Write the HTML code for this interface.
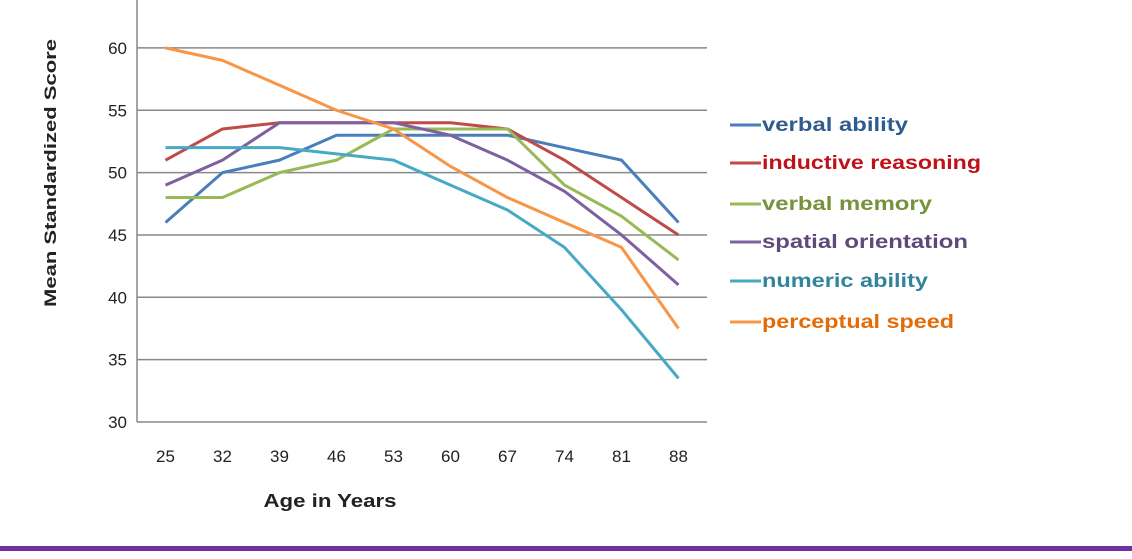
<!DOCTYPE html>
<html><head><meta charset="utf-8"><style>
body{margin:0;background:#fff;}
svg{display:block;font-family:"Liberation Sans",sans-serif;}
</style></head><body>
<svg id="chart" width="1132" height="559">
<g id="grid"></g>
<g id="yt"></g>
<g id="xt"></g>
<g id="lines"></g>
<g id="legend"></g>
<text transform="translate(56,173) rotate(-90)" text-anchor="middle" font-size="17" font-weight="bold" fill="#222" textLength="268" lengthAdjust="spacingAndGlyphs">Mean Standardized Score</text>
<text x="330" y="507" text-anchor="middle" font-size="18" font-weight="bold" fill="#222" textLength="133" lengthAdjust="spacingAndGlyphs">Age in Years</text>
<rect x="0" y="546" width="1132" height="5" fill="#7030a0"/>
</svg>
<script>
const categories=[25,32,39,46,53,60,67,74,81,88];
const yTicks=[30,35,40,45,50,55,60];
const seriesNames=["verbal ability","inductive reasoning","verbal memory","spatial orientation","numeric ability","perceptual speed"];
const verbalAbility=[46,50,51,53,53,53,53,52,51,46];
const inductiveReasoning=[51,53.5,54,54,54,54,53.5,51,48,45];
const verbalMemory=[48,48,50,51,53.5,53.5,53.5,49,46.5,43];
const spatialOrientation=[49,51,54,54,54,53,51,48.5,45,41];
const numericAbility=[52,52,52,51.5,51,49,47,44,39,33.5];
const perceptualSpeed=[60,59,57,55,53.5,50.5,48,46,44,37.5];
const series=[verbalAbility,inductiveReasoning,verbalMemory,spatialOrientation,numericAbility,perceptualSpeed];
const lineColors=["#4a7ebb","#be4b48","#98b954","#7d60a0","#46aac5","#f79646"];
const textColors=["#2f5c8f","#c0101a","#76923c","#5f497a","#31849b","#e36c09"];
const NS="http://www.w3.org/2000/svg";
const X0=137,X1=707,band=(X1-X0)/categories.length;
function x(i){return X0+band*(i+0.5);}
function y(v){return 422-(v-30)*12.47;}
function mk(tag,attrs,parent){const e=document.createElementNS(NS,tag);for(const k in attrs)e.setAttribute(k,attrs[k]);parent.appendChild(e);return e;}
const grid=document.getElementById('grid');
const yt=document.getElementById('yt');
yTicks.forEach(v=>{
  const l=mk('line',{x1:X0,x2:X1,y1:y(v),y2:y(v),stroke:'#888','stroke-width':1.5},grid);
  
  
  const t=mk('text',{x:127,y:y(v)+6,'text-anchor':'end','font-size':17,fill:'#222'},yt);
  t.textContent=v;
  
  
});
const ax=mk('line',{x1:X0,x2:X0,y1:0,y2:y(30),stroke:'#888','stroke-width':1.5},grid);


const xt=document.getElementById('xt');
categories.forEach((c,i)=>{
  const t=mk('text',{x:x(i),y:462,'text-anchor':'middle','font-size':17,fill:'#222'},xt);
  t.textContent=c;
  
  
});
const lines=document.getElementById('lines');
series.forEach((s,k)=>{
  const p=mk('polyline',{points:s.map((v,i)=>x(i)+','+y(v)).join(' '),fill:'none',stroke:lineColors[k],'stroke-width':3,'stroke-linejoin':'round'},lines);
  
  
});
const lg=document.getElementById('legend');
const ly=[125,163,204,242,281,322];
const lw=[146,219,170,206,166,192];
seriesNames.forEach((n,k)=>{
  const g=mk('g',{},lg);
  
  
  mk('line',{x1:730,x2:761,y1:ly[k],y2:ly[k],stroke:lineColors[k],'stroke-width':3},g);
  const t=mk('text',{x:762,y:ly[k]+6,'font-size':19,'font-weight':'bold',fill:textColors[k],textLength:lw[k],lengthAdjust:'spacingAndGlyphs'},g);
  t.textContent=n;
});
</script>
</body></html>
